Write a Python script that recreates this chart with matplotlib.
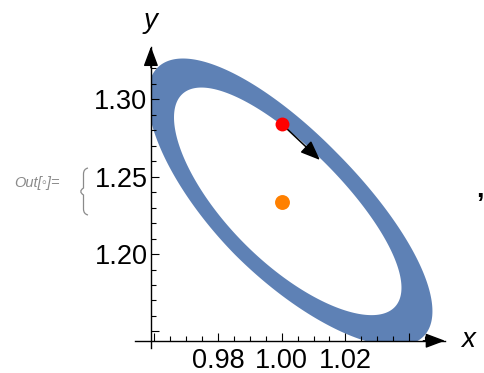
import matplotlib
matplotlib.use("Agg")
import matplotlib.pyplot as plt
import numpy as np
from matplotlib.path import Path
from matplotlib.patches import PathPatch, Rectangle

plt.rcParams['font.family'] = ['Liberation Sans', 'DejaVu Sans']

# ring: centre, half axis vectors (major towards lower right / upper left,
# minor) and a small bend of the sides
ring_center = (1.0020, 1.2343)
outer_major_lr = (0.04254, -0.08753)
outer_major_ul = (0.04100, -0.08620)
outer_minor = (0.01599, 0.03291)
outer_bend = 0.049
inner_major_lr = (0.03341, -0.06875)
inner_major_ul = (0.03341, -0.06875)
inner_minor = (0.01266, 0.02605)
inner_bend = 0.070

red_point = (1.000, 1.2841)
arrow_tip = (1.0120, 1.2608)
orange_point = (1.000, 1.2338)

x_cross, y_cross = 0.9589, 1.1440
x_lim = (0.9539, 1.0513)
y_lim = (1.1393, 1.3340)

x_major = [0.96, 0.98, 1.00, 1.02, 1.04]
x_major_labels = ['', '0.98', '1.00', '1.02', '']
y_major = [1.15, 1.20, 1.25, 1.30]
y_major_labels = ['', '1.20', '1.25', '1.30']

W, H = 485, 373


def loop(c, major_lr, major_ul, minor, bend, n=600):
    t = np.linspace(0, 2 * np.pi, n)
    a = np.cos(t)
    b = np.sin(t) - bend * np.sin(t) ** 2
    mx = np.where(a >= 0, major_lr[0], major_ul[0])
    my = np.where(a >= 0, major_lr[1], major_ul[1])
    x = c[0] + a * mx + b * minor[0]
    y = c[1] + a * my + b * minor[1]
    return np.column_stack([x, y])


def fxy(px, py):
    # pixel position -> figure fraction
    return px / W, 1 - py / H


fig = plt.figure(figsize=(4.85, 3.73), dpi=100)
ax = fig.add_axes([135 / W, (H - 348) / H, 310 / W, 301.3 / H])
ax.set_xlim(*x_lim)
ax.set_ylim(*y_lim)

# ring
outer = loop(ring_center, outer_major_lr, outer_major_ul, outer_minor, outer_bend)
inner = loop(ring_center, inner_major_lr, inner_major_ul, inner_minor, inner_bend)[::-1]
verts = np.concatenate([outer, [outer[0]], inner, [inner[0]]])
codes = ([Path.MOVETO] + [Path.LINETO] * (len(outer) - 1) + [Path.CLOSEPOLY]
         + [Path.MOVETO] + [Path.LINETO] * (len(inner) - 1) + [Path.CLOSEPOLY])
ring = PathPatch(Path(verts, codes), facecolor='#5E81B5', edgecolor='none', zorder=1)
ax.add_patch(ring)
clip = Rectangle((x_cross, y_cross), x_lim[1] - x_cross, y_lim[1] - y_cross,
                 transform=ax.transData)
ring.set_clip_path(clip)

# tangent arrow + points
ax.annotate('', xy=arrow_tip, xytext=red_point,
            arrowprops=dict(arrowstyle='-|>,head_length=0.75,head_width=0.3',
                            color='black', lw=1.1, mutation_scale=16,
                            shrinkA=0, shrinkB=0), zorder=3)
ax.scatter(*red_point, s=100, color='#FF0000', zorder=4, linewidths=0)
ax.scatter(*orange_point, s=115, color='#FF8000', zorder=4, linewidths=0)

# Mathematica style axes
for s in ['top', 'right']:
    ax.spines[s].set_visible(False)
ax.spines['left'].set_position(('data', x_cross))
ax.spines['bottom'].set_position(('data', y_cross))
ax.spines['left'].set_linewidth(1)
ax.spines['bottom'].set_linewidth(1)

ax.set_xticks(x_major)
ax.set_xticklabels(x_major_labels)
ax.set_xticks(np.arange(0.965, 1.046, 0.005), minor=True)
ax.set_yticks(y_major)
ax.set_yticklabels(y_major_labels)
ax.set_yticks(np.arange(1.16, 1.321, 0.01), minor=True)
ax.tick_params(axis='x', which='major', direction='in', length=6, width=0.8,
               labelsize=19.5, pad=5.5)
ax.tick_params(axis='y', which='major', direction='in', length=6, width=0.8,
               labelsize=19.5, pad=2.5)
ax.tick_params(which='minor', direction='in', length=3.5, width=0.8)

ax.annotate('', xy=(1.0, y_cross), xycoords=('axes fraction', 'data'),
            xytext=(0.93, y_cross),
            arrowprops=dict(arrowstyle='-|>,head_length=0.8,head_width=0.3',
                            color='black', lw=1, mutation_scale=15,
                            shrinkA=0, shrinkB=0))
ax.annotate('', xy=(x_cross, 1.0), xycoords=('data', 'axes fraction'),
            xytext=(x_cross, 0.93),
            arrowprops=dict(arrowstyle='-|>,head_length=0.8,head_width=0.3',
                            color='black', lw=1, mutation_scale=15,
                            shrinkA=0, shrinkB=0))

fig.text(*fxy(468, 340), 'x', fontsize=20, style='italic', ha='center', va='center')
fig.text(*fxy(151, 21), 'y', fontsize=20, style='italic', ha='center', va='center')
fig.text(*fxy(480, 190), ',', fontsize=19, fontweight='bold', ha='center', va='center')
fig.text(*fxy(37, 183), 'Out[\u25e6]=', fontsize=10.5, style='italic', color='#8a8a8a',
         ha='center', va='center', family=['Liberation Sans', 'DejaVu Sans'])

# bracket in front of the output
bx = [88, 83.5, 83.5, 83.5, 78, 83.5, 83.5, 83.5, 88]
by = [168, 169, 174, 188, 191.5, 195, 209, 214, 215]
bcodes = [Path.MOVETO, Path.CURVE3, Path.CURVE3, Path.LINETO, Path.CURVE3,
          Path.CURVE3, Path.LINETO, Path.CURVE3, Path.CURVE3]
bverts = [fxy(a, b) for a, b in zip(bx, by)]
fig.add_artist(PathPatch(Path(bverts, bcodes), transform=fig.transFigure,
                         facecolor='none', edgecolor='#8a8a8a', lw=0.9))

plt.savefig('out.png', dpi=100)
